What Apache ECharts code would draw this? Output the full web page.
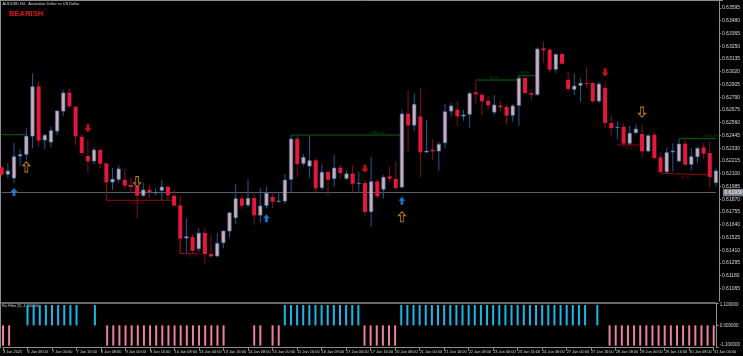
<!DOCTYPE html>
<html><head><meta charset="utf-8">
<script src="https://cdn.jsdelivr.net/npm/echarts@6/dist/echarts.min.js"></script>
<style>html,body{margin:0;padding:0;background:#000;}#c{width:743px;height:356px;}</style>
</head><body><div id="c"></div>
<script>
// ---- data (AUDUSD H4) ----
const opens = [0.62154,0.62089,0.62055,0.62254,0.62269,0.62434,0.62885,0.62398,0.62380,0.62479,
0.62659,0.62828,0.62702,0.62431,0.62257,0.62209,0.62311,0.62191,0.62019,0.62043,
0.62043,0.61996,0.61983,0.61899,0.61953,0.61926,0.61944,0.61980,0.61899,0.61812,
0.61514,0.61527,0.61418,0.61563,0.61373,0.61352,0.61472,0.61577,0.61698,0.61875,
0.61812,0.61878,0.61721,0.61809,0.61887,0.61845,0.61848,0.62043,0.62413,0.62188,
0.62163,0.62218,0.61969,0.62113,0.62050,0.62152,0.62052,0.62099,0.62005,0.62014,
0.61752,0.62028,0.61953,0.62073,0.62050,0.61974,0.62639,0.62532,0.62614,0.62290,
0.62314,0.62299,0.62374,0.62659,0.62675,0.62614,0.62630,0.62831,0.62810,0.62756,
0.62650,0.62713,0.62699,0.62621,0.62711,0.62961,0.62825,0.62810,0.63228,0.63216,
0.63036,0.63177,0.62945,0.62855,0.62891,0.62916,0.62916,0.62750,0.62871,0.62555,
0.62512,0.62519,0.62368,0.62465,0.62456,0.62299,0.62449,0.62245,0.62113,0.62290,
0.62209,0.62368,0.62179,0.62248,0.62335,0.62284,0.62014];
const highs = [0.62170,0.62194,0.62380,0.62320,0.62510,0.63006,0.62939,0.62458,0.62524,0.62675,
0.62855,0.62867,0.62705,0.62458,0.62404,0.62338,0.62329,0.62192,0.62152,0.62176,
0.62140,0.62068,0.61989,0.62019,0.61996,0.61969,0.62043,0.61989,0.61953,0.61899,
0.61698,0.61556,0.61608,0.61608,0.61547,0.61563,0.61586,0.61750,0.62007,0.61908,
0.62052,0.61932,0.61969,0.61983,0.61929,0.61929,0.62097,0.62449,0.62440,0.62278,
0.62443,0.62239,0.62185,0.62134,0.62269,0.62179,0.62127,0.62179,0.62118,0.62043,
0.62254,0.62050,0.62089,0.62163,0.62209,0.62675,0.62855,0.62825,0.62871,0.62585,
0.62413,0.62389,0.62729,0.62741,0.62759,0.62675,0.62840,0.62939,0.62825,0.62801,
0.62810,0.62759,0.62720,0.62729,0.62990,0.62975,0.62855,0.63240,0.63291,0.63231,
0.63180,0.63186,0.63020,0.63006,0.62961,0.63065,0.62921,0.62930,0.62921,0.62630,
0.62569,0.62555,0.62532,0.62546,0.62542,0.62456,0.62479,0.62284,0.62338,0.62374,
0.62413,0.62410,0.62329,0.62344,0.62380,0.62389,0.62149];
const lows = [0.62080,0.62059,0.62014,0.62170,0.62224,0.62329,0.62344,0.62320,0.62338,0.62452,
0.62621,0.62697,0.62359,0.62260,0.62104,0.62188,0.62149,0.62014,0.61953,0.62019,
0.61960,0.61929,0.61698,0.61887,0.61878,0.61908,0.61863,0.61863,0.61803,0.61382,
0.61382,0.61382,0.61397,0.61286,0.61337,0.61343,0.61427,0.61523,0.61644,0.61779,
0.61797,0.61638,0.61658,0.61788,0.61788,0.61839,0.61827,0.61923,0.62073,0.62170,
0.62064,0.61932,0.61953,0.61899,0.61983,0.62052,0.62043,0.61929,0.61938,0.61719,
0.61622,0.61878,0.61878,0.62028,0.61953,0.61969,0.62299,0.62488,0.62068,0.62287,
0.62224,0.62127,0.62329,0.62614,0.62532,0.62578,0.62515,0.62735,0.62621,0.62681,
0.62630,0.62659,0.62542,0.62569,0.62532,0.62819,0.62765,0.62801,0.63101,0.63015,
0.63006,0.63085,0.62840,0.62810,0.62750,0.62871,0.62735,0.62735,0.62510,0.62449,
0.62410,0.62359,0.62350,0.62456,0.62248,0.62290,0.62230,0.62104,0.62104,0.62118,
0.62199,0.62176,0.62134,0.62194,0.62230,0.61974,0.61983];
const closes = [0.62089,0.62125,0.62254,0.62272,0.62438,0.62885,0.62395,0.62447,0.62488,0.62666,
0.62828,0.62705,0.62434,0.62284,0.62209,0.62314,0.62188,0.62019,0.62050,0.62143,
0.61989,0.61978,0.61899,0.61953,0.61929,0.61932,0.61980,0.61902,0.61809,0.61511,
0.61532,0.61403,0.61563,0.61373,0.61352,0.61472,0.61583,0.61748,0.61875,0.61809,
0.61878,0.61721,0.61809,0.61923,0.61845,0.61854,0.62043,0.62413,0.62185,0.62248,
0.62218,0.61965,0.62113,0.62043,0.62152,0.62104,0.62099,0.62007,0.62014,0.61752,
0.62028,0.61893,0.62068,0.62052,0.61969,0.62639,0.62532,0.62726,0.62290,0.62305,
0.62299,0.62365,0.62659,0.62711,0.62614,0.62630,0.62825,0.62813,0.62750,0.62713,
0.62720,0.62696,0.62621,0.62711,0.62961,0.62825,0.62810,0.63225,0.63210,0.63036,
0.63177,0.63090,0.62862,0.62891,0.62916,0.62909,0.62750,0.62909,0.62555,0.62510,
0.62519,0.62368,0.62465,0.62503,0.62299,0.62443,0.62239,0.62113,0.62290,0.62305,
0.62368,0.62179,0.62254,0.62329,0.62278,0.62068,0.62125];

// lower indicator histogram: 1 = up (blue), -1 = down (pink), 0 = no bar
const signal = [-1,-1,0,0,1,1,1,1,1,1,1,1,1,0,0,1,0,
-1,-1,-1,-1,-1,-1,-1,-1,-1,-1,-1,-1,-1,-1,-1,-1,-1,-1,-1,-1,
0,0,0,0,-1,-1,0,-1,-1,
1,1,1,1,1,1,1,1,1,1,1,1,1,
-1,-1,-1,-1,-1,-1,
1,1,1,1,1,1,1,1,1,1,1,1,1,1,1,1,1,1,1,1,1,1,1,1,1,1,1,1,1,1,1,
0,1,0,
-1,-1,-1,-1,-1,-1,-1,-1,-1,-1,-1,-1,-1,-1,-1,-1,-1,-1];

const xTickLabels = ['3 Jan 2025','6 Jan 08:00','7 Jan 00:00','7 Jan 16:00','8 Jan 08:00','9 Jan 00:00',
'9 Jan 16:00','10 Jan 08:00','13 Jan 00:00','13 Jan 16:00','14 Jan 08:00','15 Jan 00:00','15 Jan 16:00',
'16 Jan 08:00','17 Jan 00:00','17 Jan 16:00','20 Jan 08:00','21 Jan 00:00','21 Jan 16:00','22 Jan 08:00',
'23 Jan 00:00','23 Jan 16:00','24 Jan 08:00','27 Jan 00:00','27 Jan 16:00','28 Jan 08:00','29 Jan 00:00',
'29 Jan 16:00','30 Jan 08:00','31 Jan 00:00'];
const xTickEvery = 4;
const priceTickStep = 0.00115;
const priceMin = 0.6095;
const priceMax = 0.63667;
const indTicks = [-1.1, 0, 1.1];

const bidPrice = 0.61930;

// structure levels (CHoCH / BOS)
const levelFrom  = [0, 17, 29, 47, 77, 84, 100, 107, 110];
const levelTo    = [4, 28, 32, 65, 84, 87, 104, 115, 116];
const levelStart = [0.62452, 0.62019, 0.61511, 0.62449, 0.62945, 0.62984, 0.62359, 0.62104, 0.62416];
const levelPrice = [0.62452, 0.61860, 0.61380, 0.62449, 0.62945, 0.62984, 0.62359, 0.62089, 0.62416];
const levelText  = ['', 'CHoCH', 'BOS', 'CHoCH', 'BOS', 'BOS', 'CHoCH', 'BOS', 'CHoCH'];
const levelTextAt= [2, 22, 31, 61, 80, 85, 102, 111, 115];
const levelUp    = [true, false, false, true, true, true, false, false, true];

// signal arrows
const arrowIdx   = [2, 4, 14, 22, 43, 59, 65, 65, 98, 104];
const arrowPrice = [0.61935, 0.62162, 0.62510, 0.62028, 0.61698, 0.62145, 0.61857, 0.61712, 0.63013, 0.62655];
const arrowKind  = ['buy','buyAlt','sell','sellAlt','buy','sell','buy','buyAlt','sell','sellAlt'];

// ---- styles ----
const BULL_BODY = '#d2aab1', BULL_EDGE = '#3a78b8', BULL_WICK = '#1f5a94';
const BEAR_BODY = '#e4173f', BEAR_WICK = '#7e1222';
const GREEN = '#0a680a', RED = '#950c0c';
const AX = '#8c8c8c', TXT = '#d6d6d6';
const FONT = 'Liberation Sans, Arial, sans-serif';

const cats = opens.map((_, i) => String(i));
const candleData = opens.map((o, i) => [i, o, closes[i], lows[i], highs[i]]);

function renderCandle(params, api) {
  const i = api.value(0), o = api.value(1), c = api.value(2), l = api.value(3), h = api.value(4);
  const pO = api.coord([i, o]), pC = api.coord([i, c]);
  const pL = api.coord([i, l]), pH = api.coord([i, h]);
  const x = pO[0];
  const bull = c >= o;
  const top = Math.min(pO[1], pC[1]);
  const bh = Math.max(Math.abs(pO[1] - pC[1]), 1);
  const children = [{
    type: 'line', shape: {x1: x, y1: pH[1], x2: x, y2: pL[1]},
    style: {stroke: bull ? BULL_WICK : BEAR_WICK, lineWidth: 1}
  }];
  if (bull) {
    children.push({type: 'rect', shape: {x: x - 1.7, y: top, width: 3.4, height: Math.max(bh - 0.6, 0.5)},
      style: {fill: BULL_BODY, stroke: BULL_EDGE, lineWidth: 0.6}});
  } else {
    children.push({type: 'rect', shape: {x: x - 2, y: top - 0.3, width: 4, height: bh},
      style: {fill: BEAR_BODY}});
  }
  return {type: 'group', children};
}

const series = [];
series.push({
  type: 'custom', xAxisIndex: 0, yAxisIndex: 0, renderItem: renderCandle,
  data: candleData, encode: {x: 0, y: [1, 2, 3, 4]}, clip: false, z: 3
});

// bid line
series.push({
  type: 'line', xAxisIndex: 0, yAxisIndex: 0, symbol: 'none', silent: true, z: 2,
  data: [[0, bidPrice], [opens.length - 1, bidPrice]],
  lineStyle: {color: '#5d636b', width: 1},
  endLabel: {show: true, formatter: () => bidPrice.toFixed(5), backgroundColor: '#767c84',
    color: '#ffffff', fontSize: 5, fontFamily: FONT, padding: [1.5, 1.5, 1, 1.5], distance: 7}
});

// structure levels
levelFrom.forEach((f, k) => {
  const col = levelUp[k] ? GREEN : RED;
  series.push({
    type: 'line', xAxisIndex: 0, yAxisIndex: 0, symbol: 'none', silent: true, z: 2,
    data: [[f, levelStart[k]], [f, levelPrice[k]], [levelTo[k], levelPrice[k]]],
    lineStyle: {color: col, width: 1}
  });
  if (levelText[k]) {
    series.push({
      type: 'scatter', xAxisIndex: 0, yAxisIndex: 0, symbolSize: 0, silent: true, z: 4,
      data: [[levelTextAt[k], levelPrice[k]]],
      label: {show: true, formatter: levelText[k], position: levelUp[k] ? 'top' : 'bottom',
        distance: 0.5, color: col, fontSize: 4.2, fontFamily: FONT}
    });
  }
});

// arrows
const arrowStyles = {
  buy:     {symbol: 'path://M5 0 L10 5 L7 5 L7 10 L3 10 L3 5 L0 5 Z', size: [7, 8], item: {color: '#1e90ff'}},
  sell:    {symbol: 'path://M3 0 L7 0 L7 5 L10 5 L5 10 L0 5 L3 5 Z', size: [7, 8], item: {color: '#ff1414'}},
  buyAlt:  {symbol: 'path://M5 0 L10 5 L7 5 L7 13 L3 13 L3 5 L0 5 Z', size: [7, 10],
            item: {color: '#000000', borderColor: '#e89c00', borderWidth: 1}},
  sellAlt: {symbol: 'path://M3 0 L7 0 L7 8 L10 8 L5 13 L0 8 L3 8 Z', size: [7, 10],
            item: {color: '#000000', borderColor: '#e89c00', borderWidth: 1}}
};
Object.keys(arrowStyles).forEach(kind => {
  const st = arrowStyles[kind];
  const pts = [];
  arrowIdx.forEach((ix, k) => { if (arrowKind[k] === kind) pts.push([ix, arrowPrice[k]]); });
  series.push({
    type: 'scatter', xAxisIndex: 0, yAxisIndex: 0, silent: true, z: 5,
    symbol: st.symbol, symbolSize: st.size, itemStyle: st.item, data: pts
  });
});

// indicator histogram
series.push({
  type: 'bar', xAxisIndex: 1, yAxisIndex: 1, barWidth: 2, silent: true,
  data: signal.map(v => v === 0 ? null : v),
  itemStyle: {color: p => p.value > 0 ? '#16b9ee' : '#ef7fa0'}
});

const chart = echarts.init(document.getElementById('c'), null, {renderer: 'canvas'});
chart.setOption({
  backgroundColor: '#000000',
  animation: false,
  grid: [
    {left: 1.7, right: 23.3, top: 0, height: 301.2},
    {left: 1.7, right: 23.3, top: 303, height: 44.7}
  ],
  xAxis: [
    {type: 'category', gridIndex: 0, data: cats, boundaryGap: false, offset: 1.5,
     axisLine: {show: true, onZero: false, lineStyle: {color: AX, width: 1.5}},
     axisTick: {show: false}, axisLabel: {show: false}, splitLine: {show: false}},
    {type: 'category', gridIndex: 1, data: cats, boundaryGap: false,
     axisLine: {show: true, onZero: false, lineStyle: {color: AX}},
     axisTick: {show: true, interval: (idx) => idx % xTickEvery === 0, length: 3, lineStyle: {color: AX}},
     axisLabel: {show: true, interval: (idx) => idx % xTickEvery === 0,
       formatter: (v, idx) => xTickLabels[Math.round(idx / xTickEvery)] || '',
       align: 'left', fontSize: 3.9, color: TXT, fontFamily: FONT, margin: 2},
     splitLine: {show: false}}
  ],
  yAxis: [
    {type: 'value', gridIndex: 0, position: 'right', min: priceMin, max: priceMax, interval: priceTickStep,
     offset: 3, scale: true,
     axisLine: {show: true, lineStyle: {color: AX}},
     axisTick: {show: true, length: 2, lineStyle: {color: AX}},
     axisLabel: {show: true, showMinLabel: false, showMaxLabel: false, formatter: v => v.toFixed(5),
       fontSize: 5, color: TXT, fontFamily: FONT, margin: 3},
     splitLine: {show: false}},
    {type: 'value', gridIndex: 1, position: 'right', min: indTicks[0], max: indTicks[2], interval: indTicks[2],
     offset: 3,
     axisLine: {show: true, lineStyle: {color: AX}},
     axisTick: {show: true, length: 2, lineStyle: {color: AX}},
     axisLabel: {show: true, fontSize: 4.5, color: TXT, fontFamily: FONT, margin: 3,
       formatter: v => v > 0 ? '{t|' + v.toFixed(6) + '}' : (v < 0 ? '{b|' + v.toFixed(6) + '}' : v.toFixed(6)),
       rich: {t: {padding: [4, 0, 0, 0], fontSize: 4.5, color: TXT}, b: {padding: [0, 0, 6, 0], fontSize: 4.5, color: TXT}}},
     splitLine: {show: false}}
  ],
  graphic: [
    {type: 'line', shape: {x1: 0.5, y1: 0, x2: 0.5, y2: 348}, style: {stroke: AX, lineWidth: 1}, silent: true},
    {type: 'line', shape: {x1: 0, y1: 0.5, x2: 723, y2: 0.5}, style: {stroke: AX, lineWidth: 1}, silent: true},
    {type: 'text', left: 2.5, top: 2, style: {text: 'AUDUSD,H4:  Australian Dollar vs US Dollar',
      fill: TXT, font: '3.9px ' + FONT}, silent: true},
    {type: 'text', left: 9, top: 9.5, style: {text: 'BEARISH', fill: '#e01010',
      font: 'bold 7.6px ' + FONT}, silent: true},
    {type: 'text', left: 2, top: 304, style: {text: 'Rsi Filter (5) -1.000000',
      fill: TXT, font: '3.6px ' + FONT}, silent: true}
  ],
  series
});
</script>
</body></html>
